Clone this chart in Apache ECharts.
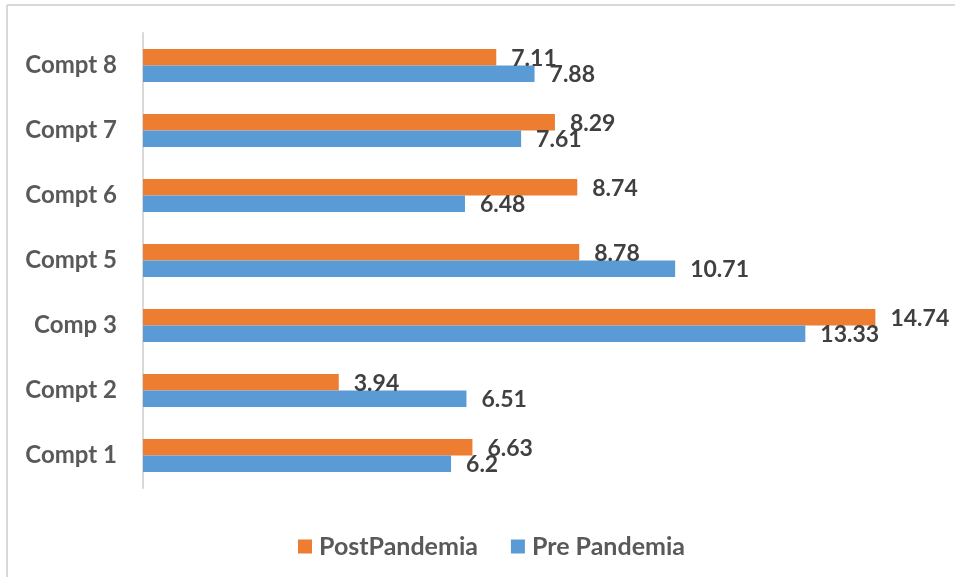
<!DOCTYPE html>
<html>
<head>
<meta charset="utf-8">
<script src="https://cdn.jsdelivr.net/npm/echarts@6/dist/echarts.min.js"></script>
<style>html,body{margin:0;padding:0;background:#fff;}#c{width:955px;height:577px;}</style>
</head>
<body>
<div id="c"></div>
<script>
var categories = ['Compt 1', 'Compt 2', 'Comp 3', 'Compt 5', 'Compt 6', 'Compt 7', 'Compt 8'];
var postPandemia = [6.63, 3.94, 14.74, 8.78, 8.74, 8.29, 7.11];
var prePandemia = [6.2, 6.51, 13.33, 10.71, 6.48, 7.61, 7.88];
var seriesNames = ['PostPandemia', 'Pre Pandemia'];

var chart = echarts.init(document.getElementById('c'), null, {renderer: 'canvas'});
var labelStyle = {
  show: true, position: 'right', distance: 15, offset: [0, 1],
  fontFamily: 'Lato', fontWeight: 'bold', fontSize: 23, color: '#404040'
};
chart.setOption({
  animation: false,
  backgroundColor: '#ffffff',
  graphic: [
    {type: 'line', shape: {x1: 7, y1: 5, x2: 955, y2: 5}, style: {stroke: '#d9d9d9', lineWidth: 2}},
    {type: 'line', shape: {x1: 7, y1: 5, x2: 7, y2: 577}, style: {stroke: '#d9d9d9', lineWidth: 2}}
  ],
  grid: {left: 143, top: 33, height: 455, right: 17},
  legend: {
    data: seriesNames,
    left: 298, top: 534, padding: 0,
    itemWidth: 14, itemHeight: 14, itemGap: 33, icon: 'rect',
    textStyle: {fontFamily: 'Lato', fontWeight: 'bold', fontSize: 25, color: '#595959', padding: [0, 0, 0, 2]}
  },
  xAxis: {
    type: 'value', min: 0, max: 16,
    axisLine: {show: false}, axisTick: {show: false}, axisLabel: {show: false}, splitLine: {show: false}
  },
  yAxis: {
    type: 'category', data: categories,
    axisLine: {show: true, lineStyle: {color: '#d9d9d9', width: 2}},
    axisTick: {show: false},
    axisLabel: {margin: 26, fontFamily: 'Lato', fontWeight: 'bold', fontSize: 24, color: '#595959'}
  },
  series: [
    {name: seriesNames[0], type: 'bar', data: postPandemia, barGap: 0, barCategoryGap: '49%',
     itemStyle: {color: '#ED7D31'}, label: labelStyle},
    {name: seriesNames[1], type: 'bar', data: prePandemia, barGap: 0, barCategoryGap: '49%',
     itemStyle: {color: '#5B9BD5'}, label: labelStyle}
  ]
});
</script>
</body>
</html>
